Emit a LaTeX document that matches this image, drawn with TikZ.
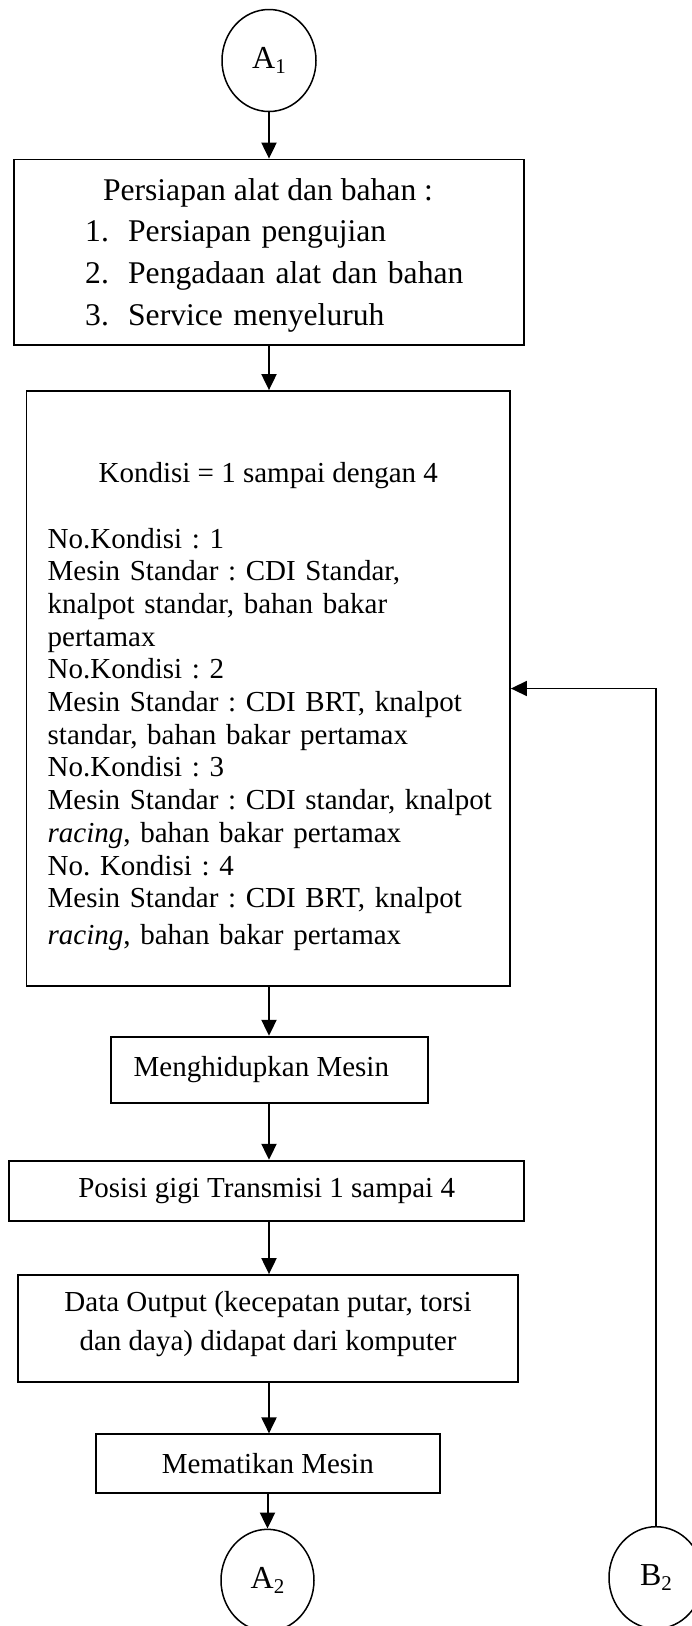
\documentclass[tikz,border=0pt]{standalone}
\usepackage{fontspec}
\setmainfont{Liberation Serif}
\usetikzlibrary{arrows.meta,shapes.geometric}
\newcommand{\mysub}[1]{\raisebox{-5pt}{\fontsize{21}{22}\selectfont #1}}
\frenchspacing
\begin{document}
\begin{tikzpicture}[x=1pt,y=-1pt,
  box/.style={draw, line width=1.8pt, inner sep=0pt, font=\fontsize{29}{33}\selectfont},
  conn/.style={draw, ellipse, line width=1.5pt, inner sep=0pt, minimum width=94pt, minimum height=102pt, font=\fontsize{32}{34}\selectfont},
  arr/.style={line width=2pt, -{Triangle[length=16pt,width=15pt]}},
  txt/.style={inner sep=0pt, font=\fontsize{29}{32.7}\selectfont},
  bigtxt/.style={inner sep=0pt, font=\fontsize{31.6}{41.7}\selectfont},
]
\fill[white] (0,0) rectangle (692,1626);
\useasboundingbox (0,0) rectangle (692,1626);
\clip (0,0) rectangle (692,1626);

\coordinate (ax) at (269,0);

% connectors (circles)
\node[conn] (a1) at (269,60.5) {A\mysub{1}};
\node[conn, minimum width=93pt] (a2) at (267.5,1580.3) {A\mysub{2}};
\node[conn] (b2) at (656,1577.7) {B\mysub{2}};

% box 1
\node[box, minimum width=510pt, minimum height=185.5pt] (box1) at (269,252.25) {};
\node[bigtxt, anchor=base] (t1) at (268,200) {Persiapan alat dan bahan :};
\node[bigtxt, anchor=base west, text width=430pt, align=left] (t1list) at (85,241.7)
  {\makebox[43pt][l]{1.}Persiapan pengujian\\
   \makebox[43pt][l]{2.}Pengadaan alat dan bahan\\
   \makebox[43pt][l]{3.}Service menyeluruh};

% box 2
\node[box, minimum width=483.5pt, minimum height=595pt] (box2) at (268.25,688.5) {};
\node[txt, anchor=base] (t2) at (268.25,482) {Kondisi = 1 sampai dengan 4};
\node[txt, anchor=base west, text width=460pt, align=left] (t2body) at (47.5,548)
  {No.Kondisi : 1\\
   Mesin Standar : CDI Standar,\\
   knalpot standar, bahan bakar\\
   pertamax\\
   No.Kondisi : 2\\
   Mesin Standar : CDI BRT, knalpot\\
   standar, bahan bakar pertamax\\
   No.Kondisi : 3\\
   Mesin Standar : CDI standar, knalpot\\
   \textit{racing}, bahan bakar pertamax\\
   No. Kondisi : 4\\
   Mesin Standar : CDI BRT, knalpot\\[4pt]
   \textit{racing}, bahan bakar pertamax};

% other boxes
\node[box, minimum width=316.7pt, minimum height=66.6pt] (box3) at (269.35,1070) {Menghidupkan Mesin\hspace*{16pt}};
\node[box, minimum width=514.7pt, minimum height=60pt] (box4) at (266.65,1190.7) {Posisi gigi Transmisi 1 sampai 4};
\node[box, minimum width=499.4pt, minimum height=106.7pt] (box5) at (268,1328.35) {};
\node[txt, align=center, font=\fontsize{29}{39}\selectfont] (t5) at ([yshift=4pt]box5.center)
  {Data Output (kecepatan putar, torsi\\ dan daya) didapat dari komputer};
\node[box, minimum width=344.3pt, minimum height=58.4pt] (box6) at (267.85,1463.5) {Mematikan Mesin};

% arrows
\draw[arr] (a1.south) -- (box1.north);
\draw[arr] (box1.south -| ax) -- (box2.north -| ax);
\draw[arr] (box2.south -| ax) -- (box3.north -| ax);
\draw[arr] (box3.south -| ax) -- (box4.north -| ax);
\draw[arr] (box4.south -| ax) -- (box5.north -| ax);
\draw[arr] (box5.south -| ax) -- (box6.north -| ax);
\draw[arr] (box6.south -| a2.north) -- (a2.north);
\draw[arr, line width=1.6pt] (b2.north) |- (box2.east);
\end{tikzpicture}
\end{document}
